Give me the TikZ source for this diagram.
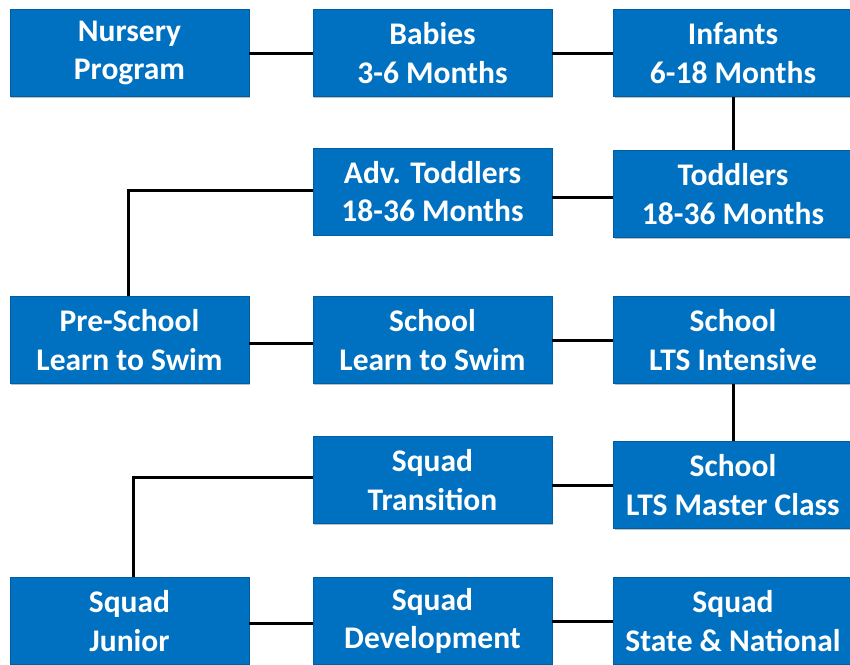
\documentclass[tikz,border=0pt]{standalone}
\usepackage{fontspec}
\setmainfont{Carlito}
\usetikzlibrary{shadows}
\definecolor{boxblue}{HTML}{0070C0}
\begin{document}
\begin{tikzpicture}[x=1pt,y=-1pt,
  stage/.style={rectangle, fill=boxblue, draw=boxblue!85!black, line width=0.5pt,
    minimum width=239pt, minimum height=87pt, inner sep=0pt,
    align=center, text=white, font=\fontsize{31.5}{38.5}\selectfont\bfseries,
    drop shadow={shadow xshift=1.2pt, shadow yshift=-1.2pt, opacity=0.25, fill=black}},
  link/.style={line width=3pt, draw=black}]
\useasboundingbox (0,0) rectangle (850,664);
\node[stage] (nursery) at (129.5,53) {Nursery\\Program};
\node[stage] (babies) at (432.5,53) {Babies\\3-6 Months};
\node[stage] (infants) at (733,53) {Infants\\6-18 Months};
\node[stage] (advtod) at (432.5,191.5) {Adv. Toddlers\\18-36 Months};
\node[stage] (toddlers) at (733,194) {Toddlers\\18-36 Months};
\node[stage] (preschool) at (129.5,340) {Pre-School\\Learn to Swim};
\node[stage] (school) at (432.5,340) {School\\Learn to Swim};
\node[stage] (ltsint) at (733,340) {School\\LTS Intensive};
\node[stage] (transition) at (432.5,480) {Squad\\Transition};
\node[stage] (master) at (733,485) {School\\LTS Master Class};
\node[stage] (junior) at (129.5,621) {Squad\\Junior};
\node[stage] (development) at (432.5,621) {Squad\\Development};
\node[stage] (state) at (733,621) {Squad\\State \& National};
\draw[link] (nursery.east) -- (babies.west);
\draw[link] (babies.east) -- (infants.west);
\draw[link] (infants.south) -- (toddlers.north);
\draw[link] ([yshift=-3pt]toddlers.west) -- ([yshift=-3pt]toddlers.west -| advtod.east);
\draw[link] ([yshift=1pt]advtod.west) -| ([xshift=-1.5pt]preschool.north);
\draw[link] ([yshift=-3pt]preschool.east) -- ([yshift=-3pt]preschool.east -| school.west);
\draw[link] (school.east) -- (ltsint.west);
\draw[link] (ltsint.south) -- (master.north);
\draw[link] (master.west) -- (master.west -| transition.east);
\draw[link] ([yshift=3pt]transition.west) -| ([xshift=3.5pt]junior.north);
\draw[link] ([yshift=-2pt]junior.east) -- ([yshift=-2pt]junior.east -| development.west);
\draw[link] (development.east) -- (state.west);
\end{tikzpicture}
\end{document}
